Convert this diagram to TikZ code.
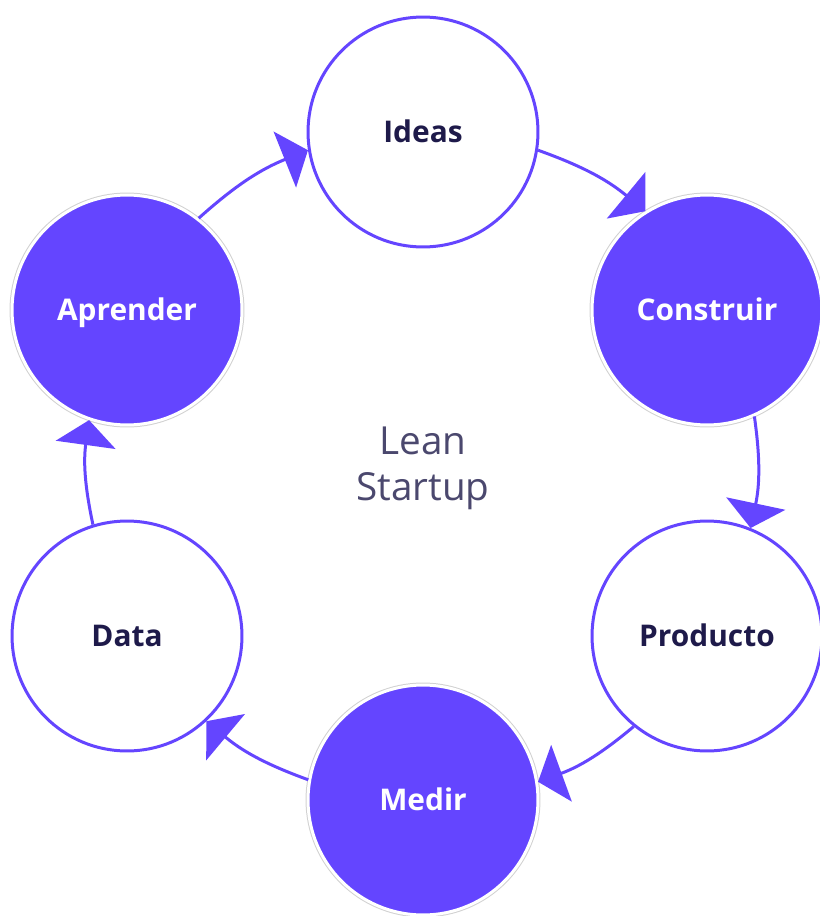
\documentclass[tikz,border=0pt]{standalone}
\usepackage{fontspec}
\setmainfont{Open Sans}
\usetikzlibrary{arrows.meta}
\definecolor{leanPurple}{HTML}{6445FF}
\definecolor{leanInk}{HTML}{1E1A4A}
\tikzset{
  every picture/.style={font={\fontsize{17}{20}\selectfont\bfseries},
    >={Triangle[length=0.5cm, width=1.2cm]}}}

\begin{document}
\begin{tikzpicture}[x=0.02cm, y=-0.02cm,
    stage/.style={
      circle, draw=leanPurple, fill=white, text=leanInk,
      line width=0.06cm, inner sep=0pt,
      text height=12pt, text depth=0pt,
      minimum size=4.6cm},
    stageDone/.style={stage, fill=leanPurple, draw=white, text=white,
      preaction={draw=black!18, line width=0.1cm}},
    loopArrow/.style={->, draw=leanPurple, line width=0.06cm, bend left=10}]

    \useasboundingbox (0,0) rectangle (820,916);

    \node[stage]     (ideas)     at (423,132) {Ideas};
    \node[stageDone] (construir) at (707,310) {Construir};
    \node[stage]     (producto)  at (707,636) {Producto};
    \node[stageDone] (medir)     at (423,800) {Medir};
    \node[stage]     (data)      at (127,636) {Data};
    \node[stageDone] (aprender)  at (127,310) {Aprender};

    \node[align=center, text=leanInk!80, font={\fontsize{22}{26}\selectfont}]
      (lean) at (423,468) {Lean\\Startup};

    \draw[loopArrow] (ideas.-9)      to (construir.122);
    \draw[loopArrow] (construir.-66) to (producto.68);
    \draw[loopArrow] (producto.-129) to (medir.9);
    \draw[loopArrow] (medir.170)     to (data.-47);
    \draw[loopArrow] (data.107)      to (aprender.-109);
    \draw[loopArrow] (aprender.52)   to (ideas.189);
  \end{tikzpicture}
\end{document}
